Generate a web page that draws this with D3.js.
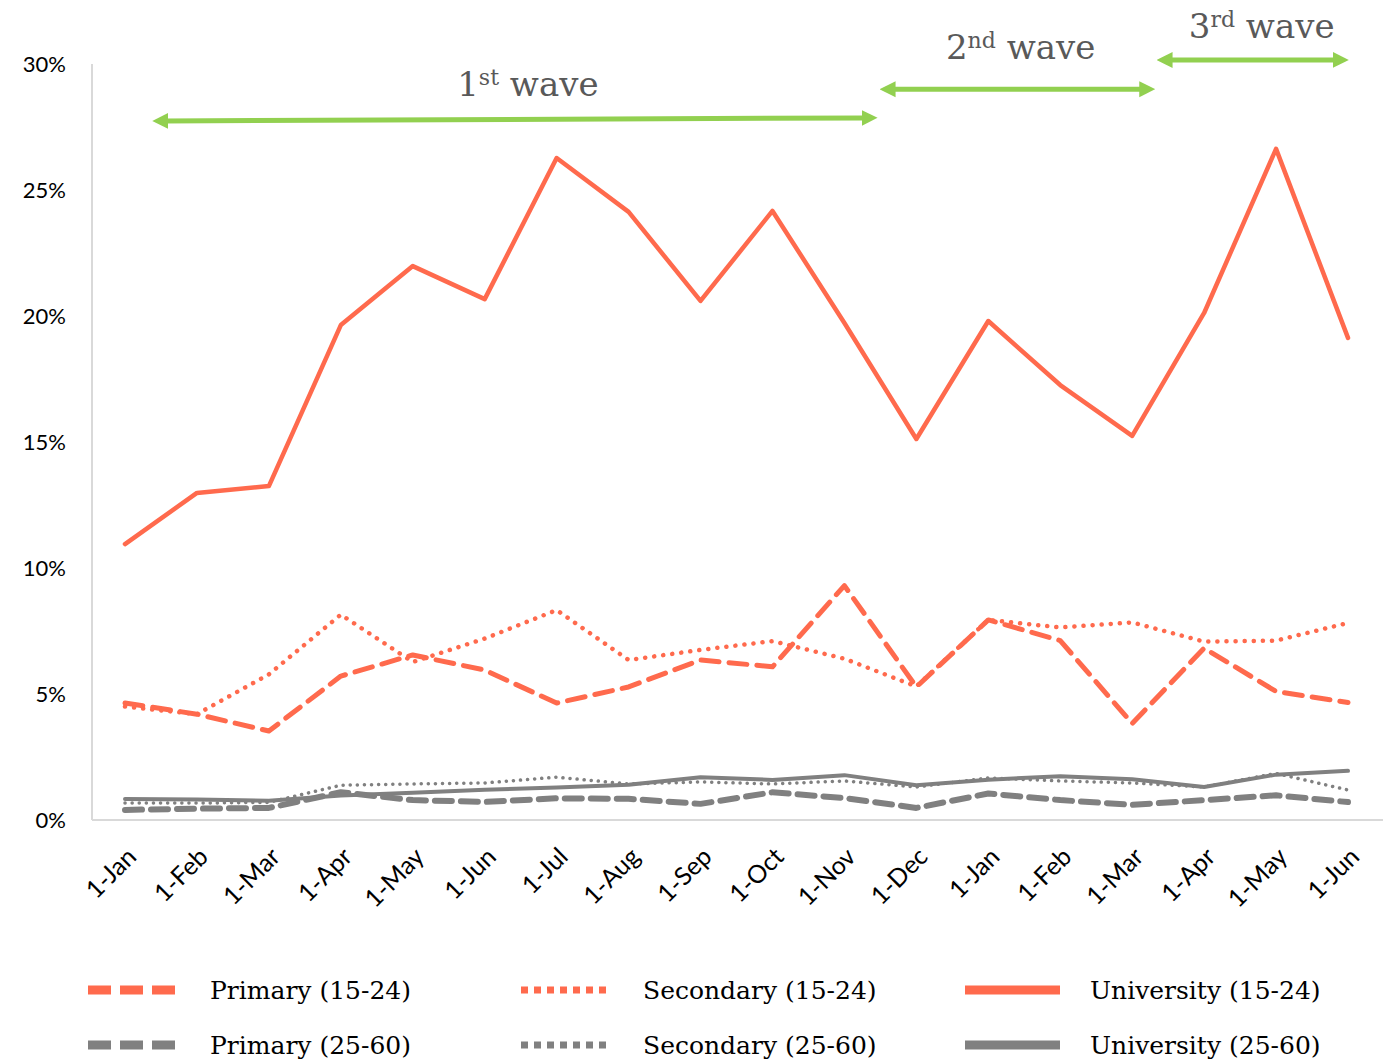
<!DOCTYPE html>
<meta charset="utf-8">
<script src="https://d3js.org/d3.v7.min.js"></script>
<style>
  body { margin: 0; background: #fff; }
  .tick text { font-family: Lato, "Open Sans", sans-serif; }
</style>
<div id="chart"></div>
<script>
// categories (monthly, two years)
var months = ["1-Jan","1-Feb","1-Mar","1-Apr","1-May","1-Jun","1-Jul","1-Aug","1-Sep","1-Oct","1-Nov","1-Dec","1-Jan","1-Feb","1-Mar","1-Apr","1-May","1-Jun"];
var yTicks = [0, 5, 10, 15, 20, 25, 30];

// series values in %
var primary1524    = [4.64, 4.2, 3.53, 5.71, 6.55, 5.95, 4.64, 5.28, 6.35, 6.08, 9.3, 5.28, 7.94, 7.12, 3.83, 6.82, 5.1, 4.66];
var secondary1524  = [4.5, 4.2, 5.78, 8.15, 6.27, 7.2, 8.33, 6.35, 6.75, 7.1, 6.4, 5.3, 7.94, 7.64, 7.84, 7.08, 7.12, 7.82];
var university1524 = [10.95, 12.98, 13.25, 19.64, 21.98, 20.67, 26.27, 24.13, 20.6, 24.17, 19.72, 15.12, 19.8, 17.26, 15.24, 20.12, 26.63, 19.13];
var primary2560    = [0.4, 0.45, 0.48, 1.1, 0.79, 0.72, 0.86, 0.84, 0.64, 1.1, 0.87, 0.48, 1.05, 0.79, 0.6, 0.79, 0.98, 0.71];
var secondary2560  = [0.67, 0.67, 0.7, 1.38, 1.43, 1.47, 1.7, 1.43, 1.51, 1.43, 1.55, 1.31, 1.67, 1.55, 1.47, 1.31, 1.85, 1.19];
var university2560 = [0.83, 0.81, 0.76, 0.97, 1.08, 1.2, 1.29, 1.4, 1.7, 1.59, 1.78, 1.38, 1.6, 1.74, 1.62, 1.31, 1.8, 1.95];

// wave spans (category index) and heights (%)
var waves = [
  {label: "1", sup: "st", from: 0.39, to: 10.45, y0: 27.74, y1: 27.86, tx: 5.6,   ty: 28.75},
  {label: "2", sup: "nd", from: 10.5, to: 14.31, y0: 29.0,  y1: 29.0,  tx: 12.45, ty: 30.2},
  {label: "3", sup: "rd", from: 14.35, to: 17.0, y0: 30.16, y1: 30.16, tx: 15.8,  ty: 31.05}
];

var red = "#ff6a4d", gray = "#808080";

var series = [
  {name: "Primary (15-24)",    values: primary1524,    color: red,  width: 5,   dash: "18,10", legDash: "23,9", legW: 9},
  {name: "Secondary (15-24)",  values: secondary1524,  color: red,  width: 4.5, dash: "0.1,9", legDash: "7,6",  legW: 7},
  {name: "University (15-24)", values: university1524, color: red,  width: 4.5, dash: null,    legDash: null,   legW: 9},
  {name: "Primary (25-60)",    values: primary2560,    color: gray, width: 6,   dash: "17,9",  legDash: "23,9", legW: 9},
  {name: "Secondary (25-60)",  values: secondary2560,  color: gray, width: 3.5, dash: "0.1,7", legDash: "7,6",  legW: 7},
  {name: "University (25-60)", values: university2560, color: gray, width: 4,   dash: null,    legDash: null,   legW: 9}
];

var W = 1388, H = 1059;
var svg = d3.select("#chart").append("svg")
    .attr("width", W)
    .attr("height", H);

var x = d3.scalePoint()
    .domain(d3.range(months.length))
    .range([125, 1348]);
var xi = d3.scaleLinear().domain([0, months.length - 1]).range([125, 1348]);

var y = d3.scaleLinear()
    .domain([0, 30])
    .range([820, 64]);

// axes
svg.append("line")
    .attr("x1", 92).attr("x2", 92)
    .attr("y1", y(30)).attr("y2", y(0))
    .attr("stroke", "#d9d9d9").attr("stroke-width", 2);
svg.append("line")
    .attr("x1", 92).attr("x2", 1383)
    .attr("y1", y(0)).attr("y2", y(0))
    .attr("stroke", "#d9d9d9").attr("stroke-width", 2);

var yAxis = svg.append("g")
    .attr("transform", "translate(66,0)")
    .call(d3.axisLeft(y).tickValues(yTicks).tickSize(0).tickFormat(function(d) { return d + "%"; }));
yAxis.select(".domain").remove();
yAxis.selectAll("text")
    .attr("font-size", "22px")
    .attr("fill", "#000")
    .attr("x", 0);

var xAxis = svg.append("g")
    .attr("transform", "translate(0," + 838 + ")")
    .call(d3.axisBottom(x).tickSize(0).tickFormat(function(i) { return months[i]; }));
xAxis.select(".domain").remove();
xAxis.selectAll("text")
    .attr("font-size", "25px")
    .attr("fill", "#000")
    .attr("text-anchor", "end")
    .attr("dy", "0.35em")
    .attr("transform", "translate(4,12) rotate(-45)");

// lines
var line = d3.line()
    .x(function(d, i) { return x(i); })
    .y(function(d) { return y(d); });

// gray first, red on top
var order = [3, 4, 5, 0, 1, 2];
order.forEach(function(k) {
  var s = series[k];
  svg.append("path")
      .datum(s.values)
      .attr("d", line)
      .attr("fill", "none")
      .attr("stroke", s.color)
      .attr("stroke-width", s.width)
      .attr("stroke-linecap", "round")
      .attr("stroke-linejoin", "round")
      .attr("stroke-dasharray", s.dash);
});

// wave arrows
var green = "#92d050";
var defs = svg.append("defs");
defs.append("marker")
    .attr("id", "ah")
    .attr("viewBox", "0 0 10 10")
    .attr("refX", 2).attr("refY", 5)
    .attr("markerWidth", 3.2).attr("markerHeight", 3.4)
    .attr("markerUnits", "strokeWidth")
    .attr("orient", "auto-start-reverse")
  .append("path")
    .attr("d", "M0,0 L10,5 L0,10 Z")
    .attr("fill", green);

waves.forEach(function(w) {
  var x0 = xi(w.from), x1 = xi(w.to);
  svg.append("line")
      .attr("x1", x0 + 12).attr("y1", y(w.y0))
      .attr("x2", x1 - 12).attr("y2", y(w.y1))
      .attr("stroke", green)
      .attr("stroke-width", 5)
      .attr("marker-start", "url(#ah)")
      .attr("marker-end", "url(#ah)");
  var t = svg.append("text")
      .attr("x", xi(w.tx))
      .attr("y", y(w.ty))
      .attr("text-anchor", "middle")
      .attr("font-family", "'DejaVu Serif', serif")
      .attr("font-size", "34px")
      .attr("fill", "#595959");
  t.append("tspan").text(w.label);
  t.append("tspan").text(w.sup).attr("font-size", "22px").attr("dy", "-11");
  t.append("tspan").text(" wave").attr("dy", "11");
});

// legend
var legX = [88, 521, 965];
var legY = [990, 1045];
series.forEach(function(s, i) {
  var col = i % 3, row = Math.floor(i / 3);
  var lx = legX[col], ly = legY[row];
  var len = col === 2 ? 95 : 90;
  svg.append("line")
      .attr("x1", lx).attr("x2", lx + len)
      .attr("y1", ly).attr("y2", ly)
      .attr("stroke", s.color)
      .attr("stroke-width", s.legW)
      .attr("stroke-dasharray", s.legDash);
  svg.append("text")
      .attr("x", lx + (col === 2 ? 125 : 122))
      .attr("y", ly + 9)
      .attr("font-family", "'DejaVu Serif', serif")
      .attr("font-size", "25px")
      .attr("fill", "#000")
      .text(s.name);
});
</script>
